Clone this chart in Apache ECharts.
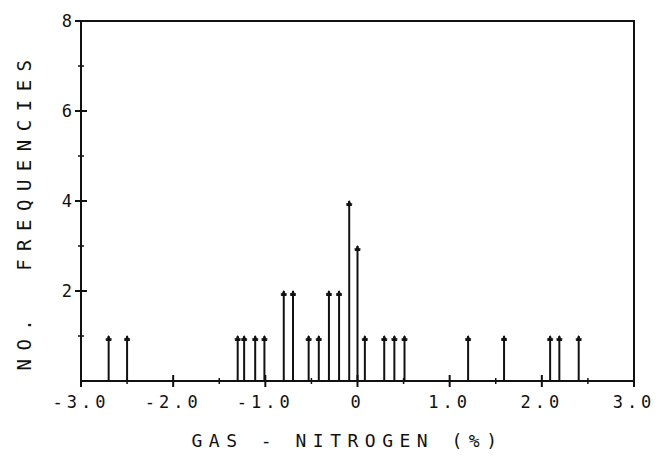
<!DOCTYPE html>
<html>
<head>
<meta charset="utf-8">
<script src="https://cdn.jsdelivr.net/npm/echarts@6/dist/echarts.min.js"></script>
<style>
html,body{margin:0;padding:0;background:#fff;}
#c{width:661px;height:456px;}
#c text{letter-spacing:4px;}
#c text[style*="18px"]{letter-spacing:6.5px;}
#c text[style*="19px"]{letter-spacing:8.5px;}
</style>
</head>
<body>
<div id="c"></div>
<script>
// Data
const gasNitrogen = [-2.7, -2.5, -1.3, -1.23, -1.11, -1.01, -0.8, -0.7, -0.53, -0.42, -0.31, -0.2, -0.09, 0.0, 0.08, 0.29, 0.4, 0.51, 1.2, 1.59, 2.09, 2.19, 2.4];
const frequencies = [1, 1, 1, 1, 1, 1, 2, 2, 1, 1, 2, 2, 4, 3, 1, 1, 1, 1, 1, 1, 1, 1, 1];
const xTickValues = [-3, -2, -1, 0, 1, 2, 3];
const xTickLabels = ['-3.0', '-2.0', '-1.0', '0', '1.0', '2.0', '3.0'];
const yTickValues = [0, 2, 4, 6, 8];
const yTickLabels = ['', '2', '4', '6', '8'];

const FONT = 'DejaVu Sans Mono';
const INK = '#111';
const GRID = {left: 81, right: 27, top: 21, bottom: 75};
const stemData = gasNitrogen.map((x, i) => [x, frequencies[i]]);

const chart = echarts.init(document.getElementById('c'), null, {renderer: 'svg'});

chart.setOption({
  animation: false,
  backgroundColor: '#fff',
  grid: Object.assign({show: true, borderColor: INK, borderWidth: 2, backgroundColor: 'transparent'}, GRID),
  xAxis: {
    type: 'value', min: -3, max: 3, interval: 1, position: 'bottom',
    axisLine: {show: true, onZero: false, lineStyle: {color: INK, width: 2}},
    axisTick: {show: false},
    splitLine: {show: false},
    axisLabel: {
      show: true, margin: 12, color: INK, fontFamily: FONT, fontSize: 17,
      formatter: v => xTickLabels[xTickValues.indexOf(Math.round(v))]
    },
    name: 'GAS - NITROGEN (%)',
    nameLocation: 'middle', nameGap: 50,
    nameTextStyle: {color: INK, fontFamily: FONT, fontSize: 18, padding: [0, 20, 0, 0]}
  },
  yAxis: {
    type: 'value', min: 0, max: 8, interval: 2, position: 'left',
    axisLine: {show: true, onZero: false, lineStyle: {color: INK, width: 2}},
    axisTick: {show: false},
    splitLine: {show: false},
    axisLabel: {
      show: true, margin: 5, color: INK, fontFamily: FONT, fontSize: 17,
      formatter: v => yTickLabels[yTickValues.indexOf(Math.round(v))]
    },
    name: 'NO.  FREQUENCIES',
    nameLocation: 'middle', nameGap: 48, nameRotate: 90,
    nameTextStyle: {color: INK, fontFamily: FONT, fontSize: 19, padding: [0, 20, 0, 0]}
  },
  series: [{
    type: 'custom',
    data: stemData,
    renderItem: function (params, api) {
      const base = api.coord([api.value(0), 0]);
      const top = api.coord([api.value(0), api.value(1)]);
      return {
        type: 'group',
        children: [
          {type: 'line', shape: {x1: base[0], y1: base[1], x2: top[0], y2: top[1]},
           style: {stroke: INK, lineWidth: 2}},
          {type: 'polygon', shape: {points: [[top[0] - 3, top[1] + 5], [top[0], top[1] - 1], [top[0] + 3, top[1] + 5]]},
           style: {fill: INK}},
          {type: 'line', shape: {x1: top[0] - 3, y1: top[1] + 3, x2: top[0] + 3, y2: top[1] + 3},
           style: {stroke: INK, lineWidth: 1.5}}
        ]
      };
    }
  }]
});

// Ticks that cross the axis lines (both sides), placed through the chart's own scales
const tickMarks = [];
const y0 = chart.convertToPixel({yAxisIndex: 0}, 0);
const x0 = chart.convertToPixel({xAxisIndex: 0}, -3);
function xTick(v, half, w) {
  const px = chart.convertToPixel({xAxisIndex: 0}, v);
  tickMarks.push({type: 'line', shape: {x1: px, y1: y0 - half, x2: px, y2: y0 + half}, style: {stroke: INK, lineWidth: w}, z: 10});
}
function yTick(v, half, w) {
  const py = chart.convertToPixel({yAxisIndex: 0}, v);
  tickMarks.push({type: 'line', shape: {x1: x0 - half, y1: py, x2: x0 + half, y2: py}, style: {stroke: INK, lineWidth: w}, z: 10});
}
xTickValues.forEach((v, i) => {
  xTick(v, 6, 2);
  if (i < xTickValues.length - 1) xTick((v + xTickValues[i + 1]) / 2, 3, 1.5);
});
yTickValues.forEach((v, i) => {
  if (v > 0) yTick(v, 6, 2);
  if (i < yTickValues.length - 1) yTick((v + yTickValues[i + 1]) / 2, 3, 1.5);
});
chart.setOption({graphic: {elements: tickMarks}});
</script>
</body>
</html>
